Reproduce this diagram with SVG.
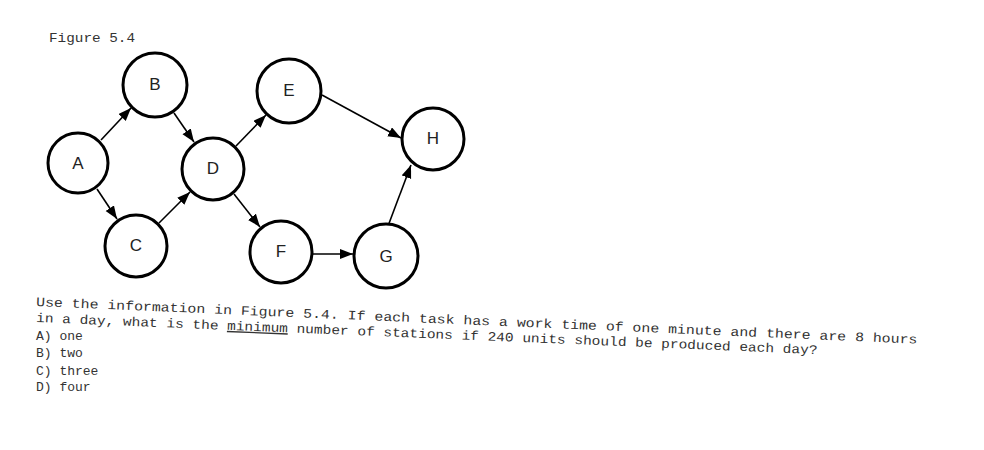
<svg xmlns="http://www.w3.org/2000/svg" width="984" height="450" viewBox="0 0 984 450">
<defs>
<style>
.node circle{fill:#fff;stroke:#000;stroke-width:3}
.node text{font-family:"Liberation Sans",Arial,sans-serif;font-size:17px;fill:#222;text-anchor:middle;dominant-baseline:central}
.edge{stroke:#000;stroke-width:1.6;fill:none;marker-end:url(#ah)}
.mono{font-family:"Liberation Mono","Courier New",monospace;font-size:13px;fill:#333}
</style>
<marker id="ah" markerUnits="userSpaceOnUse" markerWidth="14" markerHeight="11" refX="13" refY="5" orient="auto">
<path d="M0,0 L13,5 L0,10 z" fill="#000"/>
</marker>
</defs>
<rect width="984" height="450" fill="#fff"/>
<text class="mono" x="49" y="42" textLength="86" lengthAdjust="spacingAndGlyphs">Figure 5.4</text>
<g id="connectors">
<line class="edge" x1="101" y1="140" x2="131" y2="108"/>
<line class="edge" x1="174" y1="113" x2="194" y2="142"/>
<line class="edge" x1="97" y1="189" x2="117" y2="219"/>
<line class="edge" x1="159" y1="223" x2="190" y2="192"/>
<line class="edge" x1="236" y1="146" x2="266" y2="115"/>
<line class="edge" x1="234" y1="194" x2="260" y2="227"/>
<line class="edge" x1="322" y1="95" x2="401" y2="138"/>
<line class="edge" x1="313" y1="254" x2="353" y2="254"/>
<line class="edge" x1="388" y1="226" x2="411" y2="165"/>
</g>
<g id="A" class="node"><circle cx="78" cy="163" r="30"/><text x="78" y="163">A</text></g>
<g id="B" class="node"><circle cx="155" cy="85" r="32"/><text x="155" y="84">B</text></g>
<g id="C" class="node"><circle cx="136" cy="246" r="31"/><text x="136" y="245">C</text></g>
<g id="D" class="node"><circle cx="213" cy="169" r="31"/><text x="213" y="168">D</text></g>
<g id="E" class="node"><circle cx="289" cy="91" r="32"/><text x="289" y="90">E</text></g>
<g id="F" class="node"><circle cx="281" cy="252" r="31"/><text x="281" y="251">F</text></g>
<g id="G" class="node"><circle cx="386" cy="256" r="32"/><text x="386" y="256">G</text></g>
<g id="H" class="node"><circle cx="433" cy="139" r="31"/><text x="433" y="138">H</text></g>
<g id="question">
<text class="mono" x="36" y="306" textLength="882" lengthAdjust="spacingAndGlyphs" transform="rotate(2.45 36 306)">Use the information in Figure 5.4. If each task has a work time of one minute and there are 8 hours</text>
<text class="mono" x="36" y="322" textLength="782" lengthAdjust="spacingAndGlyphs" transform="rotate(2.35 36 322)">in a day, what is the <tspan text-decoration="underline">minimum</tspan> number of stations if 240 units should be produced each day?</text>
<text class="mono" x="36" y="340">A) one</text>
<text class="mono" x="36" y="357">B) two</text>
<text class="mono" x="36" y="375">C) three</text>
<text class="mono" x="36" y="391">D) four</text>
</g>
</svg>
